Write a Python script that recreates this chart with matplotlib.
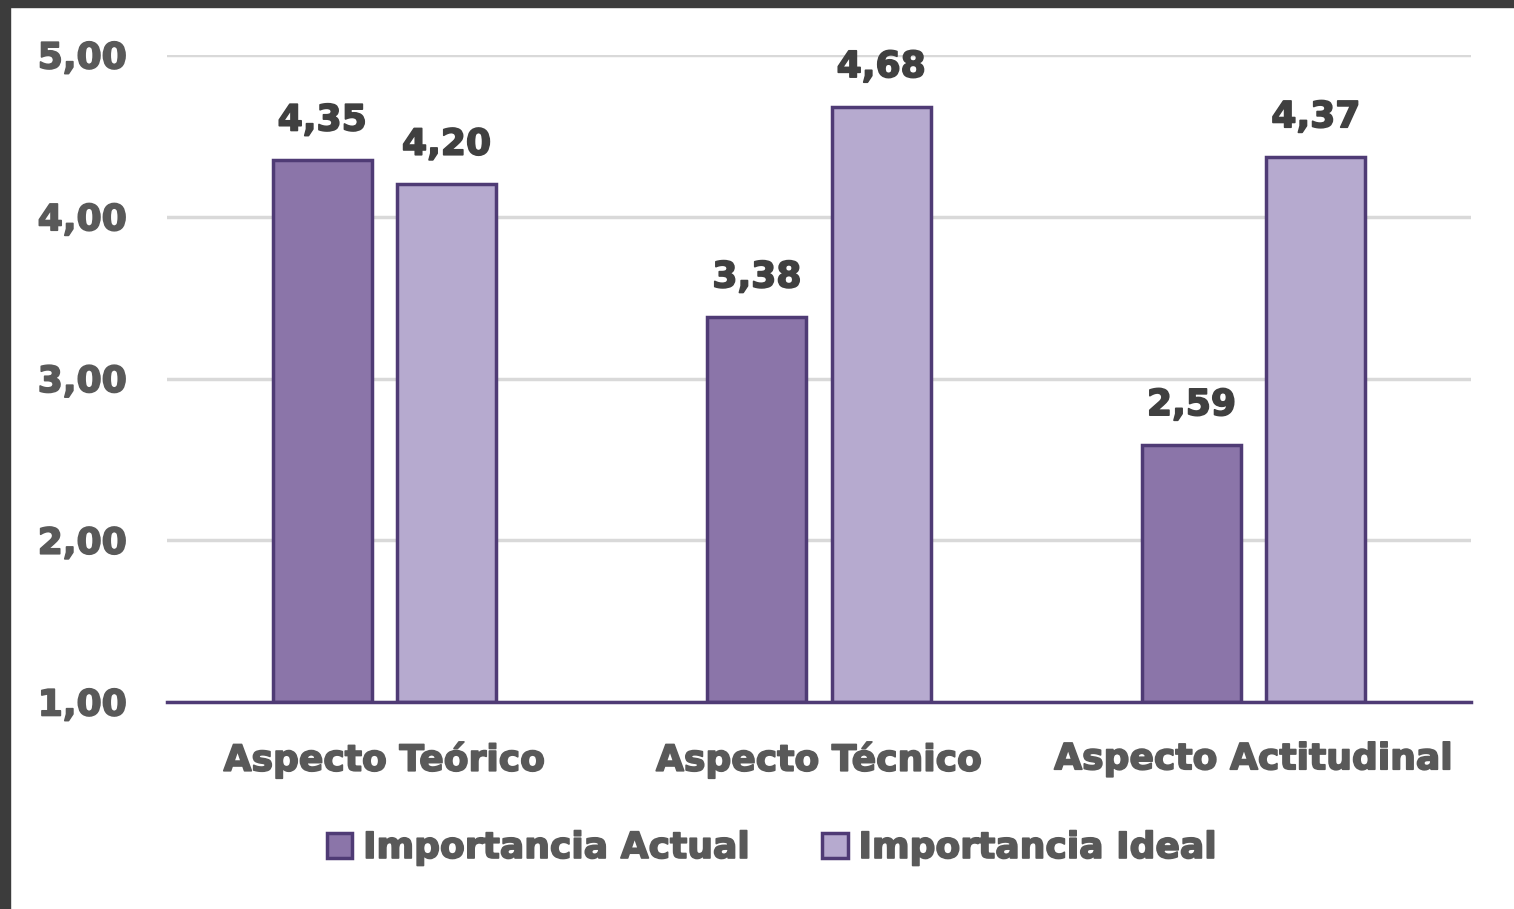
import numpy as np
import matplotlib.pyplot as plt
import matplotlib.patheffects as pe
from matplotlib.patches import Rectangle

categorias = ["Aspecto Teórico", "Aspecto Técnico", "Aspecto Actitudinal"]
actual = [4.35, 3.38, 2.59]
ideal = [4.20, 4.68, 4.37]
series = ["Importancia Actual", "Importancia Ideal"]
yticks = [1, 2, 3, 4, 5]

col_actual = "#8B75A9"
col_ideal = "#B6AACF"
col_borde = "#4F3B75"
gris = "#595959"
oscuro = "#404040"

plt.rcParams['font.family'] = ['DejaVu Sans']
plt.rcParams['font.weight'] = 'bold'
fs = 26


def grueso(t, c):
    t.set_path_effects([pe.withStroke(linewidth=1.2, foreground=c)])


fig = plt.figure(figsize=(15.14, 9.09), dpi=100)
fig.patch.set_facecolor("white")
# marco oscuro arriba e izquierda
fig.patches.append(Rectangle((0, 1 - 7/909), 1, 7/909, transform=fig.transFigure,
                             color="#3C3C3C", zorder=0))
fig.patches.append(Rectangle((0, 0), 10/1514, 1, transform=fig.transFigure,
                             color="#3C3C3C", zorder=0))

ax = fig.add_axes([167/1514, 1 - 702/909, (1471 - 167)/1514, (702 - 55)/909])

x = np.arange(len(categorias))
w = 0.228
off = 0.143
b1 = ax.bar(x - off, np.array(actual) - 1, w, bottom=1, color=col_actual,
            edgecolor=col_borde, linewidth=2.5, zorder=3, label=series[0])
b2 = ax.bar(x + off, np.array(ideal) - 1, w, bottom=1, color=col_ideal,
            edgecolor=col_borde, linewidth=2.5, zorder=3, label=series[1])

for xs, vals in ((x - off, actual), (x + off, ideal)):
    for xi, v in zip(xs, vals):
        t = ax.text(xi, v + 0.14, f"{v:.2f}".replace(".", ","), ha="center", va="bottom",
                    fontsize=fs, fontweight="bold", color=oscuro, clip_on=False)
        grueso(t, oscuro)

ax.set_xlim(-0.5, 2.5)
ax.set_ylim(1, 5)
ax.set_yticks(yticks)
ax.set_yticklabels([f"{t:.2f}".replace(".", ",") for t in yticks])
ax.set_xticks(x)
ax.set_xticklabels(categorias)
ax.tick_params(axis="y", length=0, pad=29, labelsize=fs, labelcolor=gris)
ax.tick_params(axis="x", length=0, pad=29, labelsize=fs, labelcolor=gris)
for lab in ax.get_yticklabels() + ax.get_xticklabels():
    lab.set_fontweight("bold")
    grueso(lab, gris)

ax.grid(axis="y", color="#D9D9D9", linewidth=2.5, zorder=0)
for s in ("top", "right", "left"):
    ax.spines[s].set_visible(False)
ax.spines["bottom"].set_color(col_borde)
ax.spines["bottom"].set_linewidth(2.5)
ax.spines["bottom"].set_zorder(4)

leg = fig.legend(handles=[b1, b2], loc="center", bbox_to_anchor=(772/1514, 1 - 848/909),
                 ncol=2, frameon=False, fontsize=fs, handlelength=0.7, handleheight=0.7,
                 handletextpad=0.3, columnspacing=2.0)
for t in leg.get_texts():
    t.set_color(gris)
    t.set_fontweight("bold")
    grueso(t, gris)

fig.savefig("out.png", dpi=100, facecolor="white")
